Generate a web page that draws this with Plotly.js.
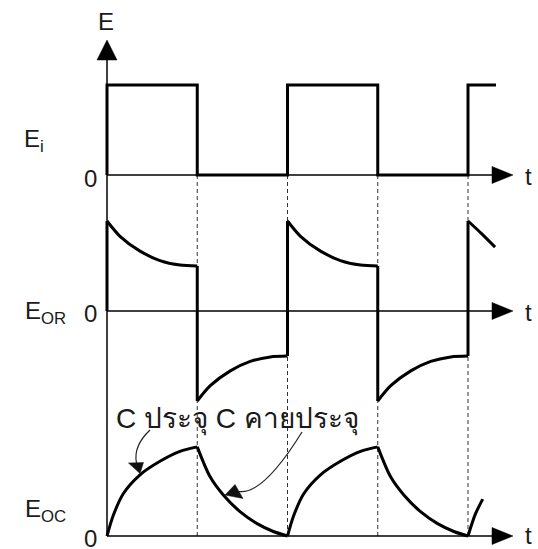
<!DOCTYPE html>
<html>
<head>
<meta charset="utf-8">
<script src="https://cdn.plot.ly/plotly-3.0.1.min.js"></script>
<style>html,body{margin:0;padding:0;background:#fff;}#chart{width:538px;height:549px;}</style>
</head>
<body>
<div id="chart"></div>
<script>
// ---- Data (time in half-periods, amplitude normalised to E) ----
// Input square wave Ei
const tEi = [0, 0, 1, 1, 2, 2, 3, 3, 4, 4, 4.31];
const vEi = [0, 1, 1, 0, 0, 1, 1, 0, 0, 1, 1];

// Resistor voltage EOR : curved parts
const tOR = [0, 0.144, 0.366, 0.587, 0.809, 1.0, null,
             1.0, 1.144, 1.366, 1.587, 1.809, 2.0, null,
             2.0, 2.144, 2.366, 2.587, 2.809, 3.0, null,
             3.0, 3.144, 3.366, 3.587, 3.809, 4.0, null,
             4.0, 4.15, 4.30];
const vOR = [1.0, 0.83, 0.665, 0.56, 0.51, 0.5, null,
             -1.0, -0.83, -0.665, -0.56, -0.51, -0.5, null,
             1.0, 0.83, 0.665, 0.56, 0.51, 0.5, null,
             -1.0, -0.83, -0.665, -0.56, -0.51, -0.5, null,
             1.0, 0.86, 0.71];
// EOR : vertical jumps
const tORj = [0, 0, null, 1, 1, null, 2, 2, null, 3, 3, null, 4, 4];
const vORj = [0, 1, null, 0.5, -1, null, -0.5, 1, null, 0.5, -1, null, -0.5, 1];

// Capacitor voltage EOC (charge / discharge)
const tOC = [0, 0.07, 0.18, 0.366, 0.587, 0.809, 1.0, null,
             1.0, 1.141, 1.289, 1.474, 1.658, 1.843, 2.0, null,
             2.0, 2.07, 2.18, 2.366, 2.587, 2.809, 3.0, null,
             3.0, 3.141, 3.289, 3.474, 3.658, 3.843, 4.0, null,
             4.0, 4.08, 4.163];
const vOC = [0, 0.23, 0.47, 0.68, 0.83, 0.94, 0.99, null,
             0.99, 0.66, 0.455, 0.27, 0.14, 0.05, 0, null,
             0, 0.23, 0.47, 0.68, 0.83, 0.94, 0.99, null,
             0.99, 0.66, 0.455, 0.27, 0.14, 0.05, 0, null,
             0, 0.24, 0.41];

const edgeTimes = [1, 2, 3, 4];
const axisEnd = 4.5;

// Labels
const labelE = 'E';
const labelEi = 'E<sub>i</sub>';
const labelEOR = 'E<sub>OR</sub>';
const labelEOC = 'E<sub>OC</sub>';
const labelZero = '0';
const labelT = 't';
const noteText = 'C ประจุ C คายประจุ';

// ---- Layout geometry ----
const W = 538, H = 549;
const X0 = 107, PXU = 90.25, PYU = 90;
const Z = [175, 311, 536];
const yr = z => [(z - H) / PYU, z / PYU];
const px = x => x / W, py = y => 1 - y / H;
const FONT = 'Liberation Sans, Arial, sans-serif';
const INK = '#000';

const thick = {color: INK, width: 3};
const traces = [
  {x: tEi, y: vEi, yaxis: 'y', mode: 'lines', line: Object.assign({shape: 'linear'}, thick), hoverinfo: 'skip'},
  {x: tOR, y: vOR, yaxis: 'y2', mode: 'lines', line: Object.assign({shape: 'spline', smoothing: 0.8}, thick), hoverinfo: 'skip'},
  {x: tORj, y: vORj, yaxis: 'y2', mode: 'lines', line: Object.assign({shape: 'linear'}, thick), hoverinfo: 'skip'},
  {x: tOC, y: vOC, yaxis: 'y3', mode: 'lines', line: Object.assign({shape: 'spline', smoothing: 0.8}, thick), hoverinfo: 'skip'}
];

const shapes = [];
// dashed edge guides
edgeTimes.forEach(t => shapes.push({type: 'line', xref: 'x', yref: 'paper', x0: t, x1: t,
  y0: py(Z[0]), y1: py(Z[2]), line: {color: '#333', width: 1, dash: '4px,3px'}, layer: 'below'}));
// horizontal zero axes + arrowheads
['y', 'y2', 'y3'].forEach((ya, i) => {
  shapes.push({type: 'line', xref: 'x', yref: ya, x0: 0, x1: axisEnd - 0.1, y0: 0, y1: 0,
    line: {color: INK, width: 1.5}});
  const z = Z[i];
  shapes.push({type: 'path', xref: 'paper', yref: 'paper',
    path: `M ${px(513)},${py(z)} L ${px(492)},${py(z - 8.5)} L ${px(492)},${py(z + 8.5)} Z`,
    fillcolor: INK, line: {color: INK, width: 0.5}});
});
// main vertical axis + arrowhead
shapes.push({type: 'line', xref: 'x', yref: 'paper', x0: 0, x1: 0, y0: py(58), y1: py(Z[2]),
  line: {color: INK, width: 1.5}});
shapes.push({type: 'path', xref: 'paper', yref: 'paper',
  path: `M ${px(X0)},${py(40)} L ${px(X0 - 10)},${py(60)} L ${px(X0 + 10)},${py(60)} Z`,
  fillcolor: INK, line: {color: INK, width: 0.5}});
// curved pointer arrows
const P = (x, y) => `${px(x)},${py(y)}`;
shapes.push({type: 'path', xref: 'paper', yref: 'paper',
  path: `M ${P(150, 430)} Q ${P(133, 446)} ${P(136.5, 463)}`, line: {color: '#222', width: 1.2}});
shapes.push({type: 'path', xref: 'paper', yref: 'paper',
  path: `M ${P(128.5, 463)} L ${P(143.5, 462.5)} L ${P(140, 473.5)} Z`, fillcolor: '#111', line: {color: '#111', width: 0.5}});
shapes.push({type: 'path', xref: 'paper', yref: 'paper',
  path: `M ${P(302, 432)} Q ${P(263, 495)} ${P(239, 491.5)}`, line: {color: '#222', width: 1.2}});
shapes.push({type: 'path', xref: 'paper', yref: 'paper',
  path: `M ${P(235, 484.5)} L ${P(243, 498.5)} L ${P(225, 495)} Z`, fillcolor: '#111', line: {color: '#111', width: 0.5}});

const txt = (text, x, y, xa, size) => ({text: text, xref: 'paper', yref: 'paper', x: px(x), y: py(y),
  xanchor: xa, yanchor: 'middle', showarrow: false, font: {family: FONT, size: size || 24, color: '#1a1a1a'}});
const annotations = [
  txt(labelE, 106, 21, 'center'),
  txt(labelEi, 22, 140, 'left'),
  txt(labelZero, 99, 178, 'right'),
  txt(labelEOR, 23, 312, 'left'),
  txt(labelZero, 99, 313, 'right'),
  txt(labelEOC, 23, 510, 'left'),
  txt(labelZero, 99, 538, 'right'),
  txt(labelT, 523, 176, 'left'),
  txt(labelT, 523, 312, 'left'),
  txt(labelT, 523, 535, 'left'),
  txt(noteText, 114, 419, 'left', 28)
];

const hidden = {visible: false, fixedrange: true};
const layout = {
  width: W, height: H, margin: {l: 0, r: 0, t: 0, b: 0},
  paper_bgcolor: '#fff', plot_bgcolor: '#fff', showlegend: false,
  xaxis: Object.assign({range: [-X0 / PXU, (W - X0) / PXU]}, hidden),
  yaxis: Object.assign({range: yr(Z[0])}, hidden),
  yaxis2: Object.assign({range: yr(Z[1]), overlaying: 'y'}, hidden),
  yaxis3: Object.assign({range: yr(Z[2]), overlaying: 'y'}, hidden),
  shapes: shapes, annotations: annotations
};
Plotly.newPlot('chart', traces, layout, {staticPlot: true, displayModeBar: false});
</script>
</body>
</html>
